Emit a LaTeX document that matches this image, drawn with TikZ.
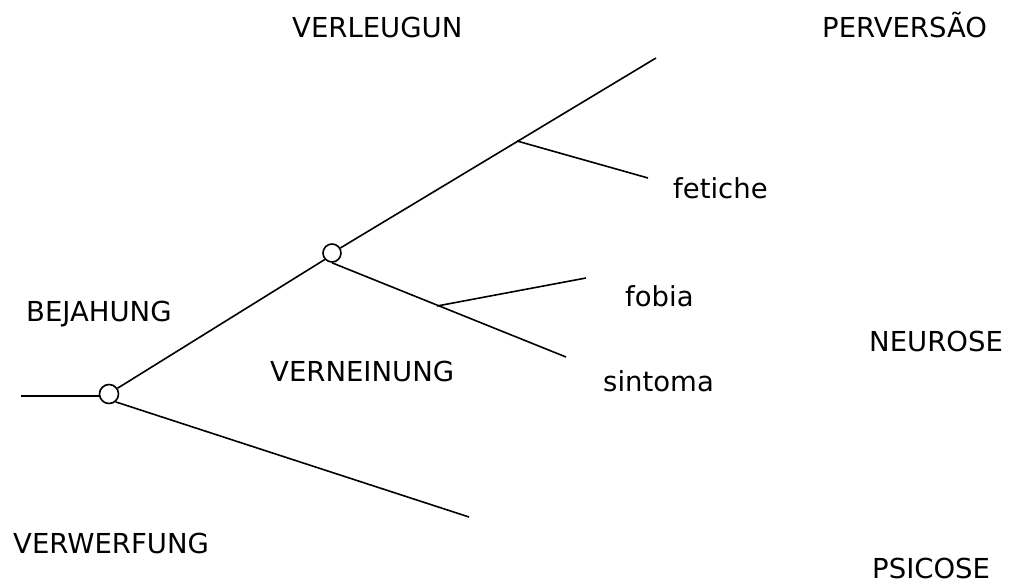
\documentclass[tikz,border=0pt]{standalone}
\usepackage{fontspec}
\setmainfont{DejaVu Sans}
\begin{document}
\begin{tikzpicture}[x=1pt,y=-1pt,
  ln/.style={line width=1.6pt,black},
  knot/.style={circle,draw,line width=1.6pt,fill=white,minimum size=19pt,inner sep=0pt},
  lbl/.style={anchor=base west,inner sep=0pt,font=\fontsize{27.5}{31}\selectfont}]
\useasboundingbox (0,0) rectangle (1009,586);
\node[knot] (c1) at (109,394) {};
\node[knot, minimum size=18pt] (c2) at (332,253) {};
\coordinate (s0) at (21,396);
\coordinate (e1) at (656,58);
\coordinate (e2) at (648,178);
\coordinate (e3) at (566,357);
\coordinate (e4) at (586,278);
\coordinate (e5) at (469,517);
\coordinate (j1) at (517,141);
\coordinate (j2) at (437,306);
\draw[ln] (s0) -- (s0 -| c1.west);
\draw[ln] (c1.34) -- (c2.222);
\draw[ln] (c1.-50) -- (e5);
\draw[ln] (c2.31) -- (e1);
\draw[ln] (c2.-90) -- (e3);
\draw[ln] (j1) -- (e2);
\draw[ln] (j2) -- (e4);
\node[lbl] (verleugun) at (292,38) {VERLEUGUN};
\node[lbl] (perversao) at (822,38) {PERVERSÃO};
\node[lbl] (fetiche) at (673,198) {fetiche};
\node[lbl] (fobia) at (625,306) {fobia};
\node[lbl] (bejahung) at (26,321) {BEJAHUNG};
\node[lbl] (neurose) at (869,351) {NEUROSE};
\node[lbl] (verneinung) at (270,381) {VERNEINUNG};
\node[lbl] (sintoma) at (603,391) {sintoma};
\node[lbl] (verwerfung) at (13,553) {VERWERFUNG};
\node[lbl] (psicose) at (872,578) {PSICOSE};
\end{tikzpicture}
\end{document}
